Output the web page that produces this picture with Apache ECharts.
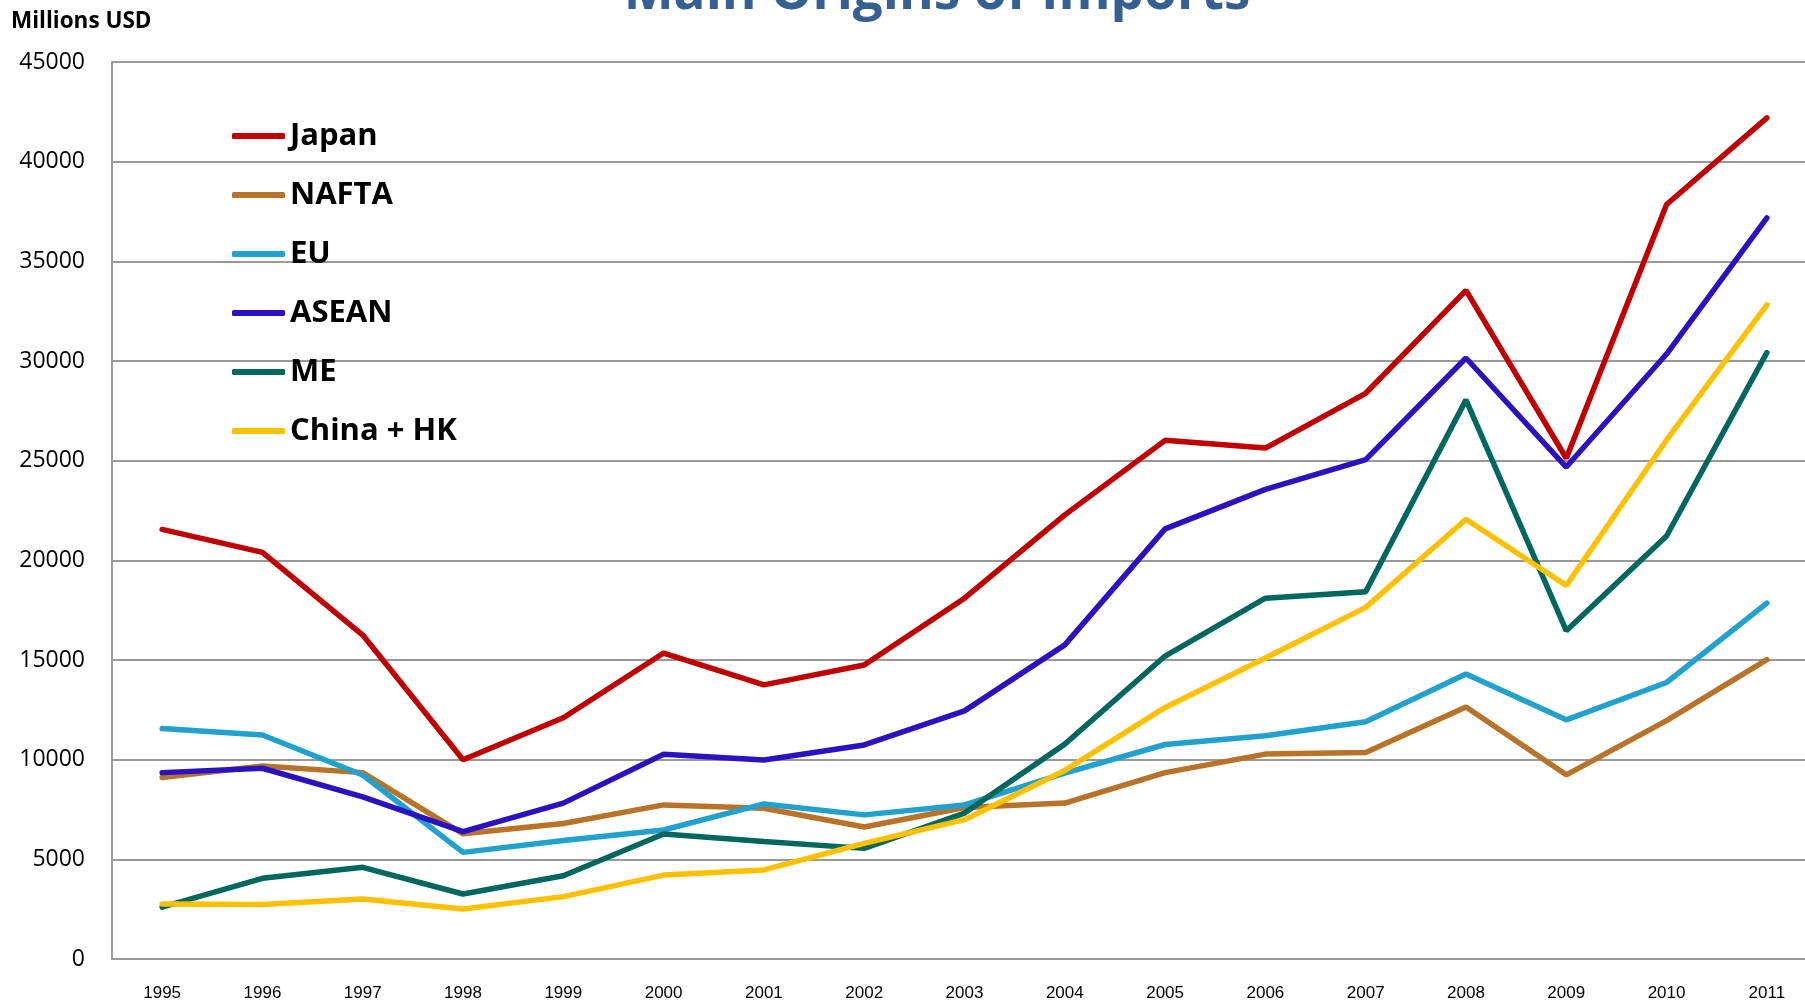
<!DOCTYPE html>
<html>
<head>
<meta charset="utf-8">
<title>Main Origins of Imports</title>
<script src="https://cdn.jsdelivr.net/npm/echarts@6/dist/echarts.min.js"></script>
<style>
  html, body { margin: 0; padding: 0; background: #fff; overflow: hidden; }
  /* plot area runs a little past the right edge, like the original */
  #chart { width: 1817px; height: 1002px; }
</style>
</head>
<body>
<div id="chart"></div>
<script>
// values, millions USD
const years = ["1995", "1996", "1997", "1998", "1999", "2000", "2001", "2002", "2003",
  "2004", "2005", "2006", "2007", "2008", "2009", "2010", "2011"];
const japan = [21550, 20400, 16250, 10000, 12100, 15350, 13750, 14750, 18100, 22280, 26020, 25630, 28380, 33540, 25120, 37850, 42200];
const nafta = [9100, 9680, 9350, 6280, 6800, 7730, 7560, 6620, 7600, 7820, 9350, 10280, 10360, 12640, 9240, 11960, 15020];
const eu = [11560, 11240, 9230, 5350, 5940, 6470, 7780, 7230, 7730, 9330, 10760, 11200, 11900, 14300, 12000, 13870, 17850];
const asean = [9350, 9570, 8130, 6390, 7820, 10270, 9980, 10740, 12450, 15760, 21580, 23560, 25050, 30150, 24680, 30350, 37180];
const me = [2600, 4050, 4600, 3260, 4180, 6270, 5890, 5550, 7320, 10780, 15200, 18100, 18420, 28050, 16470, 21220, 30420];
const chinaHk = [2760, 2740, 3010, 2510, 3130, 4210, 4470, 5800, 6990, 9460, 12620, 15100, 17640, 22060, 18740, 26040, 32820];

const seriesDefs = [
  { name: "Japan", data: japan, color: "#C00000" },
  { name: "NAFTA", data: nafta, color: "#B87328" },
  { name: "EU", data: eu, color: "#21A1CD" },
  { name: "ASEAN", data: asean, color: "#2B12C0" },
  { name: "ME", data: me, color: "#00675F" },
  { name: "China + HK", data: chinaHk, color: "#FFC000" },
];

const gridColor = "#999999";

const chart = echarts.init(document.getElementById("chart"), null, { renderer: "canvas" });

const option = {
  animation: false,
  backgroundColor: "#ffffff",
  title: {
    text: "Main Origins of Imports",
    left: 932,
    top: -38,
    textAlign: "center",
    textStyle: {
      fontFamily: "Open Sans",
      fontWeight: "bold",
      fontSize: 53,
      color: "#366092",
    },
  },
  graphic: [
    {
      type: "text",
      left: 11,
      top: 10,
      style: {
        text: "Millions USD",
        fontFamily: "Open Sans",
        fontWeight: "bold",
        fontSize: 22.5,
        fill: "#000",
      },
    },
  ],
  legend: {
    orient: "vertical",
    left: 232,
    top: 118,
    padding: 0,
    icon: "roundRect",
    itemWidth: 53,
    itemHeight: 6,
    itemGap: 23,
    textStyle: {
      fontFamily: "Open Sans",
      fontWeight: "bold",
      fontSize: 31,
      lineHeight: 36,
      color: "#000",
    },
    data: seriesDefs.map(s => s.name),
  },
  grid: {
    left: 112,
    right: 0,
    top: 62,
    bottom: 42,
    containLabel: false,
  },
  xAxis: {
    type: "category",
    data: years,
    boundaryGap: true,
    axisLine: { lineStyle: { color: gridColor, width: 2 } },
    axisTick: { show: false },
    axisLabel: {
      margin: 26,
      fontFamily: "Liberation Sans",
      fontSize: 17,
      color: "#000",
    },
  },
  yAxis: {
    type: "value",
    min: 0,
    max: 45000,
    interval: 5000,
    axisLine: { show: true, lineStyle: { color: gridColor, width: 2 } },
    axisTick: { show: false },
    axisLabel: {
      margin: 27,
      fontFamily: "Open Sans",
      fontSize: 23,
      color: "#000",
      formatter: v => String(v),
    },
    splitLine: { lineStyle: { color: gridColor, width: 2 } },
  },
  series: seriesDefs.map(s => ({
    name: s.name,
    type: "line",
    data: s.data,
    symbol: "none",
    color: s.color,
    lineStyle: { color: s.color, width: 5.5, cap: "round" },
    itemStyle: { color: s.color },
  })),
};

chart.setOption(option);
</script>
</body>
</html>
